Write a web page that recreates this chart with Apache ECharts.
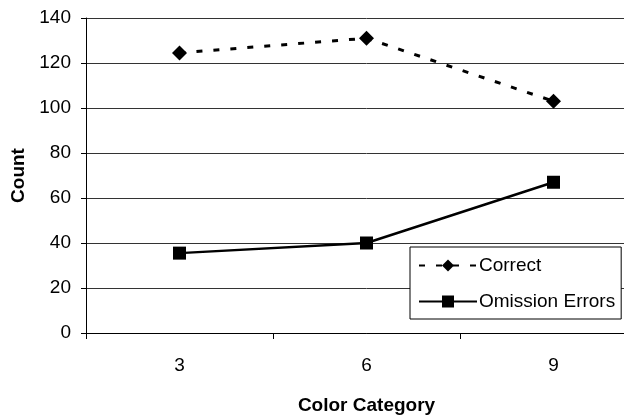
<!DOCTYPE html>
<html>
<head>
<meta charset="utf-8">
<script src="https://cdn.jsdelivr.net/npm/echarts@6/dist/echarts.min.js"></script>
<style>html,body{margin:0;padding:0;background:#fff;overflow:hidden;width:624px;height:420px;}#c{width:647px;height:420px;}</style>
</head>
<body>
<div id="c"></div>
<script>
var categories = ['3', '6', '9'];
var correct = [124.5, 131, 103];
var omissionErrors = [35.5, 40, 67];
var yTicks = {min: 0, max: 140, interval: 20};

var chart = echarts.init(document.getElementById('c'), null, {renderer: 'canvas'});
var font = 'Liberation Sans, Arial, sans-serif';
chart.setOption({
  animation: false,
  backgroundColor: '#fff',
  grid: {left: 86, top: 18, right: 0, height: 317, containLabel: false},
  xAxis: {
    type: 'category',
    data: categories,
    name: 'Color Category',
    nameLocation: 'middle',
    nameGap: 63,
    nameTextStyle: {fontFamily: font, fontSize: 19, fontWeight: 'bold', color: '#000'},
    axisLine: {lineStyle: {color: '#000', width: 1}},
    axisTick: {show: true, length: 6, lineStyle: {color: '#000'}},
    axisLabel: {fontFamily: font, fontSize: 19, color: '#000', margin: 23},
    splitLine: {show: false}
  },
  yAxis: {
    type: 'value',
    min: yTicks.min, max: yTicks.max, interval: yTicks.interval,
    name: 'Count',
    nameLocation: 'middle',
    nameGap: 53,
    nameTextStyle: {fontFamily: font, fontSize: 19, fontWeight: 'bold', color: '#000'},
    axisLine: {show: true, lineStyle: {color: '#000', width: 1}},
    axisTick: {show: true, length: 5, lineStyle: {color: '#000'}},
    axisLabel: {fontFamily: font, fontSize: 19, color: '#000', margin: 15},
    splitLine: {show: true, lineStyle: {color: '#333', width: 1}}
  },
  legend: {
    orient: 'vertical',
    left: 410, top: 247,
    padding: [9, 6, 8, 8],
    itemWidth: 58, itemHeight: 15, itemGap: 17,
    borderColor: '#000', borderWidth: 1,
    backgroundColor: '#fff',
    textStyle: {fontFamily: font, fontSize: 19, color: '#000', padding: [0, 0, 0, -3]},
    data: ['Correct', 'Omission Errors']
  },
  series: [
    {
      name: 'Correct', type: 'line', data: correct,
      symbol: 'diamond', symbolSize: 15,
      itemStyle: {color: '#000'},
      lineStyle: {color: '#000', width: 3, type: [6, 11]}
    },
    {
      name: 'Omission Errors', type: 'line', data: omissionErrors,
      symbol: 'rect', symbolSize: 13,
      itemStyle: {color: '#000'},
      lineStyle: {color: '#000', width: 2.5, type: 'solid'}
    }
  ]
});
</script>
</body>
</html>
